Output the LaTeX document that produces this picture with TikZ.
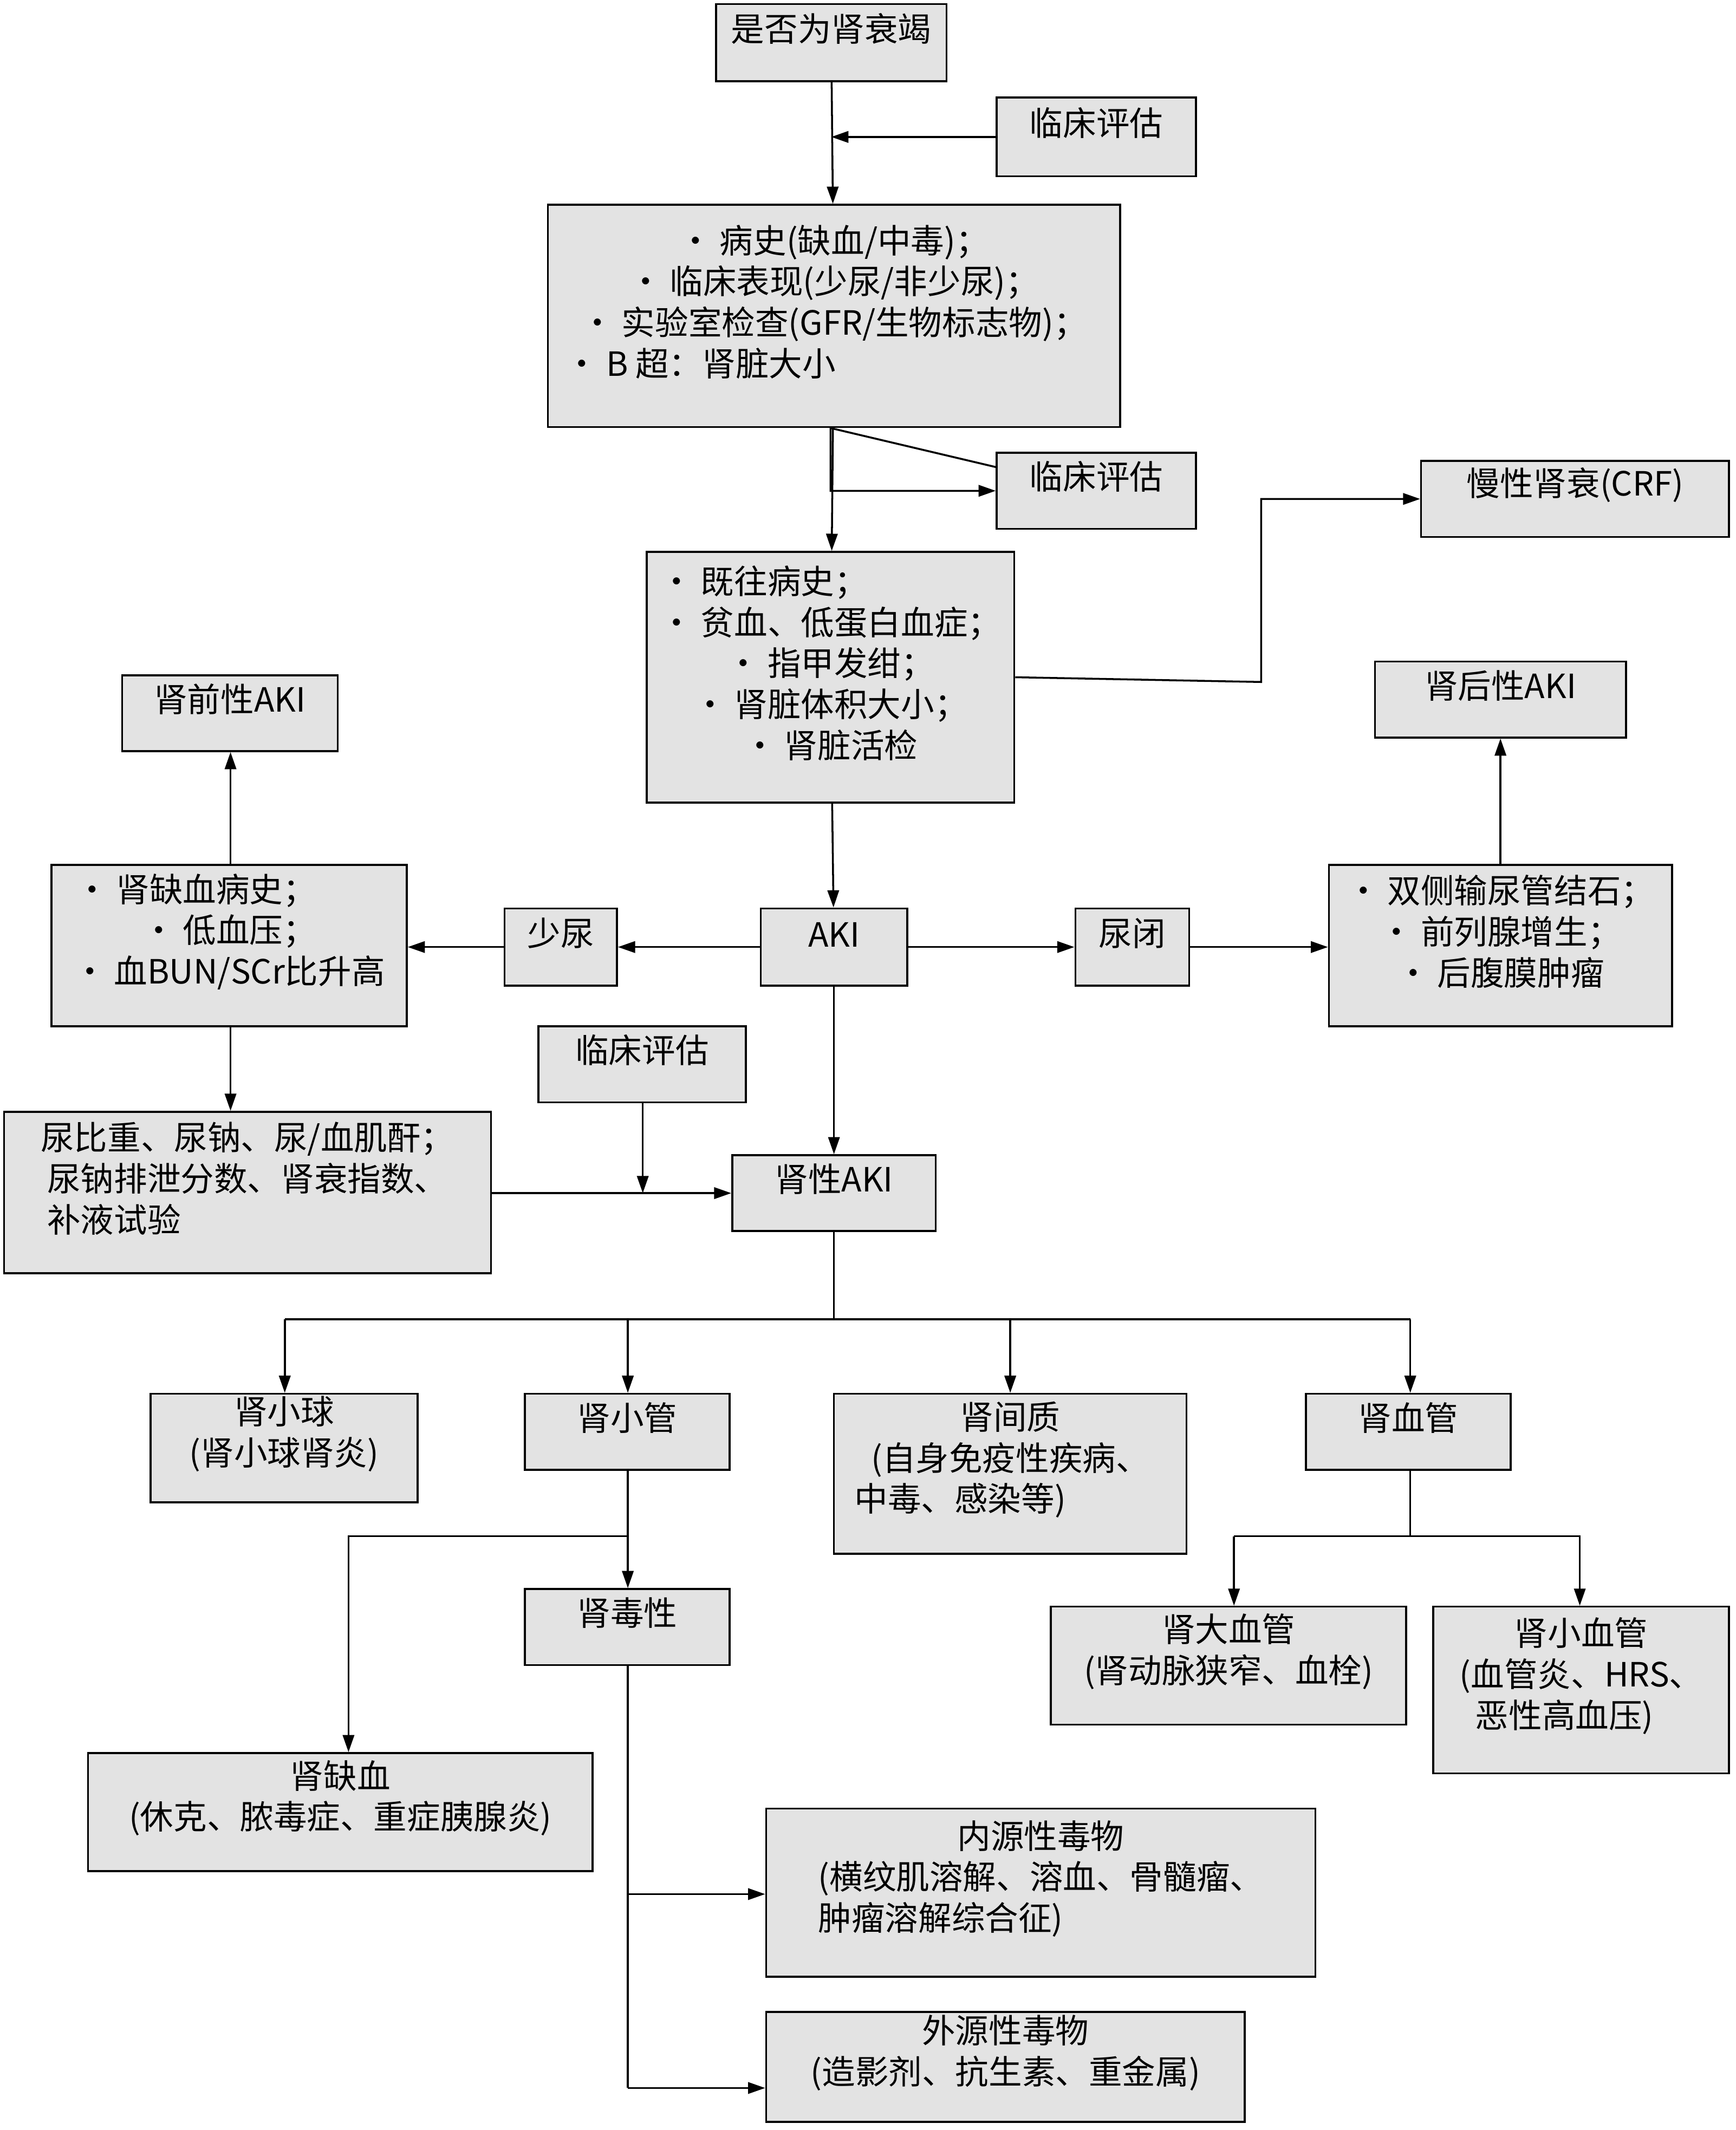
\documentclass[tikz,border=0pt]{standalone}
\usepackage{fontspec}
\setmainfont{Noto Sans CJK SC}
\usetikzlibrary{fit,arrows.meta}
\begin{document}
\begin{tikzpicture}[x=0.05cm,y=-0.05cm,
 bx/.style={draw,line width=2pt,fill=black!11,inner sep=0pt,align=left,font=\fontsize{35}{43}\selectfont},
 bc/.style={bx,align=center},
 ar/.style={-{Triangle[length=18pt,width=12pt]},line width=2pt},
 ln/.style={line width=2pt}]
\useasboundingbox (0,0) rectangle (1280,1571);
\node[bc,fit={(528,3)(698,60)}] (a) {是否为肾衰竭};
\node[bc,fit={(735,72)(882,130)}] (c1) {临床评估};
\node[bx,fit={(404,151)(826,315)}] (b) {• 病史(缺血/中毒)；\\• 临床表现(少尿/非少尿)；\\• 实验室检查(GFR/生物标志物)；\\• B 超：肾脏大小\phantom{新新新新新新新新}};
\node[bc,fit={(735,334)(882,390)}] (c2) {临床评估};
\node[bx,fit={(477,407)(748,592)}] (d) {• 既往病史；\phantom{新新新新}\\• 贫血、低蛋白血症；\\• 指甲发绀；\\• 肾脏体积大小；\\• 肾脏活检};
\node[bc,fit={(1048,340)(1275,396)}] (crf) {慢性肾衰(CRF)};
\node[bc,fit={(90,498)(249,554)}] (pre) {肾前性AKI};
\node[bx,fit={(38,638)(300,757)}] (isc) {• 肾缺血病史；\phantom{新新}\\• 低血压；\\• 血BUN/SCr比升高};
\node[bc,fit={(372,670)(455,727)}] (sn) {少尿};
\node[bc,fit={(561,670)(669,727)}] (aki) {AKI};
\node[bc,fit={(793,670)(877,727)}] (nb) {尿闭};
\node[bx,fit={(980,638)(1233,757)}] (st) {• 双侧输尿管结石；\\• 前列腺增生；\\• 后腹膜肿瘤};
\node[bc,fit={(1014,488)(1199,544)}] (post) {肾后性AKI};
\node[bc,fit={(397,757)(550,813)}] (c3) {临床评估};
\node[bx,fit={(3,820)(362,939)}] (ur) {尿比重、尿钠、尿/血肌酐；\\尿钠排泄分数、肾衰指数、\\补液试验\phantom{新新新新新新新新}};
\node[bc,fit={(540,852)(690,908)}] (ren) {肾性AKI};
\node[bc,fit={(111,1028)(308,1108)}] (gl) {肾小球\\(肾小球肾炎)};
\node[bc,fit={(387,1028)(538,1084)}] (tu) {肾小管};
\node[bc,fit={(615,1028)(875,1146)}] (in) {肾间质\\\hspace*{0pt}(自身免疫性疾病、\\中毒、感染等)\phantom{新新新}};
\node[bc,fit={(963,1028)(1114,1084)}] (ve) {肾血管};
\node[bc,fit={(387,1172)(538,1228)}] (tox) {肾毒性};
\node[bc,fit={(775,1185)(1037,1272)}] (bv) {肾大血管\\(肾动脉狭窄、血栓)};
\node[bc,fit={(1057,1185)(1275,1308)}] (sv) {肾小血管\\(血管炎、HRS、\\恶性高血压)\phantom{新}};
\node[bc,fit={(65,1293)(437,1380)}] (ri) {肾缺血\\(休克、脓毒症、重症胰腺炎)};
\node[bc,fit={(565,1334)(970,1458)}] (en) {内源性毒物\\(横纹肌溶解、溶血、骨髓瘤、\\肿瘤溶解综合征)\phantom{新新新新新新}};
\node[bc,fit={(565,1484)(918,1565)}] (ex) {外源性毒物\\(造影剂、抗生素、重金属)};
% connectors
\draw[ar] (a) -- (b);
\draw[ar] (c1) -- (a.south |- c1);
\draw[ar] (b) -- (d);
\draw[ar] (c2) -- (b.south -| d) |- (c2) ;
\draw[ar] (d) -- (aki);
\draw[ar] (d.east) -- (930,503) |- (crf.west);
\draw[ar] (aki) -- (sn);
\draw[ar] (sn) -- (isc.east |- sn);
\draw[ar] (aki) -- (nb);
\draw[ar] (nb) -- (st.west |- nb);
\draw[ar] (st.north -| post) -- (post);
\draw[ar] (isc.north -| 170,0) -- (pre.south -| 170,0);
\draw[ar] (isc.south -| 170,0) -- (ur.north -| 170,0);
\draw[ar] (ur.east |- ren) -- (ren.west);
\draw[ar] (c3.south -| 474,0) -- (474,880);
\draw[ar] (aki) -- (ren);
\draw[ln] (ren.south) -- (615,973);
\draw[ln] (210,973) -- (1040,973);
\draw[ar] (210,973) -- (gl.north -| 210,0);
\draw[ar] (463,973) -- (tu.north -| 463,0);
\draw[ar] (745,973) -- (in.north -| 745,0);
\draw[ar] (1040,973) -- (ve.north -| 1040,0);
\draw[ln] (tu.south -| 463,0) -- (463,1133);
\draw[ar] (463,1133) -- (tox.north -| 463,0);
\draw[ar] (463,1133) -- (257,1133) -- (ri.north -| 257,0);
\draw[ln] (ve.south -| 1040,0) -- (1040,1133);
\draw[ar] (910,1133) -- (bv.north -| 910,0);
\draw[ar] (910,1133) -- (1165,1133) -- (sv.north -| 1165,0);
\draw[ln] (tox.south -| 463,0) -- (463,1540);
\draw[ar] (463,1397) -- (en.west |- 463,1397);
\draw[ar] (463,1540) -- (ex.west |- 463,1540);
\end{tikzpicture}
\end{document}
